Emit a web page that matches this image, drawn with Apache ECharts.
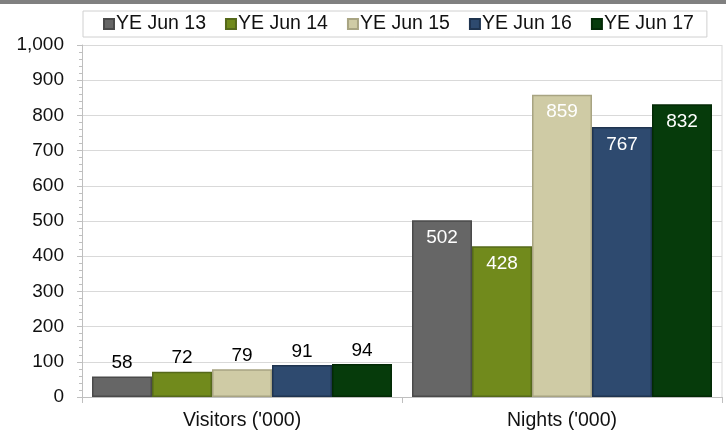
<!DOCTYPE html>
<html>
<head>
<meta charset="utf-8">
<script src="https://cdn.jsdelivr.net/npm/echarts@6/dist/echarts.min.js"></script>
<style>
  html, body { margin: 0; padding: 0; background: #fff; }
  #grafico { width: 726px; height: 434px; }
</style>
</head>
<body>
<div id="grafico"></div>
<script>
// datos del gráfico
const categorias = ["Visitors ('000)", "Nights ('000)"];
const series_nombres = ['YE Jun 13', 'YE Jun 14', 'YE Jun 15', 'YE Jun 16', 'YE Jun 17'];
const visitantes = [58, 72, 79, 91, 94];
const noches = [502, 428, 859, 767, 832];
const colores = ['#666666', '#718a1c', '#cfcba5', '#2e4a6f', '#063b0b'];
const bordes = ['#4a4a4a', '#55691a', '#a8a482', '#1f3450', '#032a06'];

const iniciarGrafico = () => {
    const grafico = echarts.init(document.getElementById('grafico'));

    const series = series_nombres.map((nombre, i) => ({
        name: nombre,
        type: 'bar',
        barGap: 0,
        barCategoryGap: '6.25%',
        itemStyle: {
            color: colores[i],
            borderColor: bordes[i],
            borderWidth: 1.5
        },
        data: [
            {
                value: visitantes[i],
                label: { show: true, position: 'top', color: '#000', fontSize: 19, distance: 4 }
            },
            {
                value: noches[i],
                label: { show: true, position: 'insideTop', color: '#fff', fontSize: 19, distance: 8 }
            }
        ]
    }));

    const option = {
        animation: false,
        textStyle: { fontFamily: 'Liberation Sans, Arial, sans-serif' },
        color: colores,
        graphic: [
            { type: 'rect', left: 0, top: 0, shape: { width: 726, height: 4 }, style: { fill: '#808080' } },
            // borde derecho del área de trazado
            { type: 'line', shape: { x1: 722, y1: 45, x2: 722, y2: 397 }, style: { stroke: '#d9d9d9', lineWidth: 1 } }
        ],
        legend: {
            data: series_nombres,
            left: 83,
            top: 11,
            padding: [3, 13, 3, 20],
            borderColor: '#d0d0d0',
            borderWidth: 1,
            itemWidth: 10,
            itemHeight: 10,
            itemGap: 19,
            icon: 'rect',
            textStyle: { fontSize: 19.5, color: '#111', padding: [0, 0, 0, -3] }
        },
        grid: { left: 82, right: 4, top: 45, bottom: 37 },
        xAxis: {
            type: 'category',
            data: categorias,
            axisLine: { lineStyle: { color: '#bfbfbf' } },
            axisTick: { show: true, length: 6, lineStyle: { color: '#bfbfbf' } },
            axisLabel: { fontSize: 19.5, color: '#111', margin: 14 }
        },
        yAxis: {
            type: 'value',
            min: 0,
            max: 1000,
            interval: 100,
            axisLine: { show: true, lineStyle: { color: '#bfbfbf' } },
            axisTick: { show: true, length: 5, lineStyle: { color: '#bfbfbf' } },
            minorTick: { show: true, splitNumber: 5, length: 3, lineStyle: { color: '#bfbfbf' } },
            splitLine: { lineStyle: { color: '#d9d9d9' } },
            axisLabel: {
                fontSize: 19,
                color: '#111',
                margin: 18,
                formatter: (v) => v.toLocaleString('en-US')
            }
        },
        series: series
    };

    grafico.setOption(option);
};

window.addEventListener('load', () => {
    iniciarGrafico();
});
</script>
</body>
</html>
